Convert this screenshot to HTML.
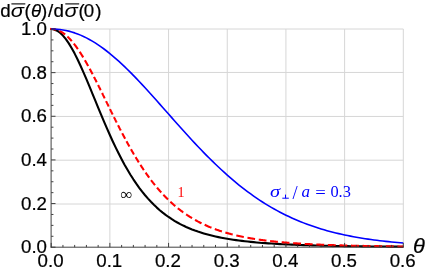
<!DOCTYPE html>
<html><head><meta charset="utf-8"><style>
html,body{margin:0;padding:0;background:#fff;overflow:hidden;}
svg{display:block;will-change:transform;font-family:"Liberation Sans",sans-serif;}
</style></head><body>
<svg width="427" height="273" viewBox="0 0 427 273">
<rect width="427" height="273" fill="#fff"/>
<g stroke="#d6d6d6" stroke-width="1" fill="none"><line x1="109.88" y1="29.0" x2="109.88" y2="247.2"/><line x1="168.57" y1="29.0" x2="168.57" y2="247.2"/><line x1="227.25" y1="29.0" x2="227.25" y2="247.2"/><line x1="285.93" y1="29.0" x2="285.93" y2="247.2"/><line x1="344.62" y1="29.0" x2="344.62" y2="247.2"/><line x1="403.30" y1="29.0" x2="403.30" y2="247.2"/><line x1="51.2" y1="204.00" x2="403.3" y2="204.00"/><line x1="51.2" y1="160.20" x2="403.3" y2="160.20"/><line x1="51.2" y1="116.45" x2="403.3" y2="116.45"/><line x1="51.2" y1="72.45" x2="403.3" y2="72.45"/><line x1="51.2" y1="29.00" x2="403.3" y2="29.00"/></g>
<g fill="none" stroke-linejoin="round">
<path d="M51.20,29.00 L54.13,29.42 L57.07,30.66 L60.00,32.72 L62.94,35.55 L65.87,39.11 L68.81,43.35 L71.74,48.20 L74.67,53.60 L77.61,59.48 L80.54,65.75 L83.48,72.33 L86.41,79.17 L89.34,86.18 L92.28,93.29 L95.21,100.45 L98.15,107.59 L101.08,114.66 L104.02,121.61 L106.95,128.42 L109.88,135.04 L112.82,141.45 L115.75,147.63 L118.69,153.57 L121.62,159.25 L124.55,164.66 L127.49,169.81 L130.42,174.69 L133.36,179.31 L136.29,183.66 L139.23,187.77 L142.16,191.63 L145.09,195.25 L148.03,198.65 L150.96,201.83 L153.90,204.81 L156.83,207.59 L159.76,210.19 L162.70,212.62 L165.63,214.88 L168.57,216.99 L171.50,218.96 L174.44,220.79 L177.37,222.50 L180.30,224.09 L183.24,225.57 L186.17,226.95 L189.11,228.23 L192.04,229.43 L194.97,230.54 L197.91,231.58 L200.84,232.54 L203.78,233.44 L206.71,234.28 L209.65,235.07 L212.58,235.80 L215.51,236.48 L218.45,237.11 L221.38,237.71 L224.32,238.26 L227.25,238.78 L230.18,239.26 L233.12,239.72 L236.05,240.14 L238.99,240.54 L241.92,240.91 L244.86,241.26 L247.79,241.58 L250.72,241.89 L253.66,242.17 L256.59,242.44 L259.53,242.70 L262.46,242.93 L265.39,243.15 L268.33,243.36 L271.26,243.56 L274.20,243.75 L277.13,243.92 L280.07,244.08 L283.00,244.24 L285.93,244.39 L288.87,244.52 L291.80,244.65 L294.74,244.78 L297.67,244.89 L300.60,245.00 L303.54,245.10 L306.47,245.20 L309.41,245.29 L312.34,245.38 L315.28,245.46 L318.21,245.54 L321.14,245.62 L324.08,245.69 L327.01,245.75 L329.95,245.82 L332.88,245.88 L335.81,245.93 L338.75,245.99 L341.68,246.04 L344.62,246.09 L347.55,246.13 L350.49,246.18 L353.42,246.22 L356.35,246.26 L359.29,246.30 L362.22,246.33 L365.16,246.37 L368.09,246.40 L371.02,246.43 L373.96,246.46 L376.89,246.49 L379.83,246.52 L382.76,246.54 L385.70,246.57 L388.63,246.59 L391.56,246.62 L394.50,246.64 L397.43,246.66 L400.37,246.68 L403.30,246.70" stroke="#000" stroke-width="2.1"/>
<path d="M51.20,29.00 L51.61,29.00 L52.02,29.02 L52.43,29.04 L52.84,29.07 L53.25,29.11 L53.66,29.16 L54.08,29.22 L54.49,29.29 L54.90,29.37 L55.31,29.46 L55.72,29.56 L56.07,29.65M59.36,30.87 L59.83,31.10 L60.30,31.34 L60.77,31.59 L61.23,31.86 L61.70,32.14 L62.17,32.43 L62.64,32.73 L63.11,33.05 L63.58,33.38 L64.05,33.72 L64.52,34.08 L64.99,34.44 L65.11,34.54M67.46,36.58 L67.81,36.91 L68.16,37.25 L68.51,37.59 L68.86,37.95 L69.22,38.30 L69.57,38.67 L69.92,39.04 L70.27,39.42 L70.62,39.81 L70.98,40.20 L71.33,40.60 L71.68,41.00 L71.80,41.14M73.79,43.56 L74.09,43.93 L74.38,44.30 L74.67,44.69 L74.97,45.07 L75.26,45.46 L75.55,45.85 L75.85,46.25 L76.14,46.65 L76.43,47.05 L76.73,47.46 L77.02,47.87 L77.31,48.29 L77.61,48.71 L77.84,49.04M79.66,51.74 L79.95,52.19 L80.25,52.64 L80.54,53.10 L80.84,53.56 L81.13,54.02 L81.42,54.48 L81.72,54.95 L82.01,55.42 L82.30,55.89 L82.60,56.37 L82.89,56.85 L83.18,57.34 L83.24,57.43M84.88,60.20 L85.12,60.60 L85.35,61.00 L85.59,61.41 L85.82,61.82 L86.06,62.23 L86.29,62.64 L86.53,63.05 L86.76,63.46 L87.00,63.88 L87.23,64.30 L87.47,64.71 L87.70,65.13 L87.94,65.56 L88.17,65.98 L88.17,65.98M89.70,68.77 L89.93,69.20 L90.17,69.63 L90.40,70.07 L90.64,70.51 L90.87,70.95 L91.10,71.39 L91.34,71.83 L91.57,72.27 L91.81,72.72 L92.04,73.16 L92.28,73.61 L92.51,74.05 L92.57,74.17M93.98,76.87 L94.21,77.33 L94.45,77.78 L94.68,78.24 L94.92,78.70 L95.15,79.16 L95.39,79.61 L95.62,80.07 L95.86,80.54 L96.09,81.00 L96.33,81.46 L96.56,81.92 L96.74,82.27M98.09,84.95 L98.26,85.30 L98.44,85.65 L98.62,86.01 L98.79,86.36 L98.97,86.71 L99.14,87.06 L99.32,87.42 L99.50,87.77 L99.67,88.12 L99.85,88.48 L100.02,88.83 L100.20,89.19 L100.38,89.54 L100.55,89.90 L100.73,90.25 L100.73,90.25M102.08,92.98 L102.25,93.34 L102.43,93.70 L102.61,94.05 L102.78,94.41 L102.96,94.77 L103.13,95.13 L103.31,95.48 L103.49,95.84 L103.66,96.20 L103.84,96.56 L104.02,96.92 L104.19,97.27 L104.37,97.63 L104.54,97.99 L104.72,98.35 L104.72,98.35M106.07,101.10 L106.24,101.46 L106.42,101.82 L106.60,102.18 L106.77,102.54 L106.95,102.89 L107.13,103.25 L107.30,103.61 L107.48,103.97 L107.65,104.33 L107.83,104.69 L108.01,105.05 L108.18,105.40 L108.36,105.76 L108.53,106.12 L108.71,106.48 L108.71,106.48M110.00,109.10 L110.18,109.46 L110.35,109.82 L110.53,110.17 L110.70,110.53 L110.88,110.89 L111.06,111.24 L111.23,111.60 L111.41,111.96 L111.59,112.31 L111.76,112.67 L111.94,113.02 L112.11,113.38 L112.29,113.73 L112.47,114.09 L112.64,114.44 L112.70,114.56M113.99,117.15 L114.17,117.51 L114.34,117.86 L114.52,118.21 L114.70,118.56 L114.87,118.91 L115.05,119.27 L115.22,119.62 L115.40,119.97 L115.58,120.32 L115.75,120.67 L115.93,121.02 L116.10,121.37 L116.28,121.71 L116.46,122.06 L116.63,122.41 L116.69,122.53M118.04,125.18 L118.28,125.64 L118.51,126.10 L118.74,126.56 L118.98,127.02 L119.21,127.48 L119.45,127.93 L119.68,128.39 L119.92,128.84 L120.15,129.30 L120.39,129.75 L120.62,130.20 L120.80,130.54M122.21,133.24 L122.44,133.68 L122.68,134.13 L122.91,134.57 L123.15,135.02 L123.38,135.46 L123.62,135.90 L123.85,136.34 L124.08,136.78 L124.32,137.22 L124.55,137.66 L124.79,138.10 L125.02,138.53 L125.08,138.64M126.49,141.24 L126.73,141.67 L126.96,142.10 L127.19,142.53 L127.43,142.95 L127.66,143.38 L127.90,143.80 L128.13,144.23 L128.37,144.65 L128.60,145.07 L128.84,145.49 L129.07,145.91 L129.31,146.33 L129.42,146.54M130.95,149.23 L131.19,149.64 L131.42,150.05 L131.65,150.45 L131.89,150.86 L132.12,151.27 L132.36,151.67 L132.59,152.07 L132.83,152.48 L133.06,152.88 L133.30,153.28 L133.53,153.68 L133.77,154.07 L134.00,154.47 L134.00,154.47M135.59,157.12 L135.82,157.50 L136.06,157.89 L136.29,158.28 L136.53,158.66 L136.76,159.04 L137.00,159.43 L137.23,159.81 L137.46,160.19 L137.70,160.56 L137.93,160.94 L138.17,161.32 L138.40,161.69 L138.64,162.07 L138.81,162.35M140.40,164.83 L140.69,165.28 L140.99,165.74 L141.28,166.19 L141.57,166.64 L141.87,167.08 L142.16,167.53 L142.45,167.97 L142.75,168.41 L143.04,168.85 L143.33,169.29 L143.63,169.72 L143.86,170.07M145.56,172.55 L145.86,172.97 L146.15,173.39 L146.44,173.81 L146.74,174.22 L147.03,174.64 L147.32,175.05 L147.62,175.46 L147.91,175.87 L148.20,176.27 L148.50,176.68 L148.79,177.08 L149.08,177.48 L149.20,177.64M151.08,180.15 L151.37,180.54 L151.67,180.92 L151.96,181.30 L152.25,181.69 L152.55,182.06 L152.84,182.44 L153.13,182.82 L153.43,183.19 L153.72,183.56 L154.01,183.93 L154.31,184.30 L154.60,184.66 L154.89,185.03 L155.01,185.17M157.01,187.59 L157.36,188.01 L157.71,188.43 L158.06,188.84 L158.41,189.25 L158.77,189.66 L159.12,190.06 L159.47,190.47 L159.82,190.87 L160.17,191.27 L160.53,191.66 L160.88,192.06 L161.23,192.45 L161.23,192.45M163.34,194.74 L163.70,195.11 L164.05,195.48 L164.40,195.85 L164.75,196.22 L165.10,196.58 L165.46,196.94 L165.81,197.30 L166.16,197.66 L166.51,198.01 L166.86,198.37 L167.22,198.72 L167.57,199.06 L167.92,199.41 L167.98,199.47M170.33,201.71 L170.74,202.09 L171.15,202.47 L171.56,202.84 L171.97,203.22 L172.38,203.59 L172.79,203.95 L173.20,204.32 L173.61,204.68 L174.02,205.04 L174.44,205.39 L174.85,205.74 L175.26,206.09 L175.32,206.14M177.84,208.23 L178.25,208.56 L178.66,208.88 L179.07,209.21 L179.48,209.53 L179.89,209.85 L180.30,210.16 L180.71,210.48 L181.12,210.79 L181.54,211.10 L181.95,211.40 L182.36,211.70 L182.77,212.01 L183.18,212.30 L183.35,212.43M186.11,214.36 L186.58,214.68 L187.05,215.00 L187.52,215.31 L187.99,215.62 L188.46,215.92 L188.93,216.23 L189.40,216.53 L189.87,216.82 L190.34,217.12 L190.81,217.41 L191.28,217.70 L191.75,217.98 L192.04,218.16M195.03,219.91 L195.56,220.20 L196.09,220.50 L196.62,220.79 L197.15,221.07 L197.67,221.36 L198.20,221.64 L198.73,221.92 L199.26,222.19 L199.79,222.46 L200.31,222.73 L200.84,223.00 L201.37,223.26 L201.49,223.32M204.66,224.83 L205.19,225.07 L205.71,225.31 L206.24,225.55 L206.77,225.78 L207.30,226.01 L207.83,226.24 L208.35,226.47 L208.88,226.69 L209.41,226.91 L209.94,227.13 L210.47,227.35 L210.99,227.56 L211.46,227.75M214.81,229.03 L215.40,229.25 L215.98,229.46 L216.57,229.67 L217.16,229.88 L217.74,230.09 L218.33,230.29 L218.92,230.49 L219.50,230.69 L220.09,230.89 L220.68,231.08 L221.26,231.27 L221.85,231.46 L221.91,231.48M225.37,232.54 L225.96,232.71 L226.55,232.88 L227.13,233.05 L227.72,233.21 L228.31,233.38 L228.89,233.54 L229.48,233.70 L230.07,233.86 L230.65,234.01 L231.24,234.17 L231.83,234.32 L232.41,234.47 L232.71,234.54M236.29,235.41 L236.87,235.55 L237.46,235.68 L238.05,235.81 L238.63,235.94 L239.22,236.07 L239.81,236.20 L240.40,236.33 L240.98,236.45 L241.57,236.58 L242.16,236.70 L242.74,236.82 L243.33,236.94 L243.80,237.03M247.44,237.73 L248.02,237.83 L248.61,237.94 L249.20,238.05 L249.78,238.15 L250.37,238.25 L250.96,238.35 L251.54,238.45 L252.13,238.55 L252.72,238.65 L253.31,238.74 L253.89,238.84 L254.48,238.93 L255.07,239.02 L255.07,239.02M258.76,239.58 L259.41,239.67 L260.05,239.77 L260.70,239.86 L261.35,239.95 L261.99,240.03 L262.64,240.12 L263.28,240.21 L263.93,240.29 L264.57,240.37 L265.22,240.46 L265.86,240.54 L266.45,240.61M270.15,241.05 L270.79,241.12 L271.44,241.20 L272.08,241.27 L272.73,241.34 L273.38,241.41 L274.02,241.48 L274.67,241.54 L275.31,241.61 L275.96,241.68 L276.60,241.74 L277.25,241.81 L277.89,241.87 L277.89,241.87M281.65,242.22 L282.29,242.28 L282.94,242.34 L283.59,242.39 L284.23,242.45 L284.88,242.50 L285.52,242.56 L286.17,242.61 L286.81,242.66 L287.46,242.72 L288.10,242.77 L288.75,242.82 L289.40,242.87 L289.45,242.87M293.15,243.15 L293.80,243.19 L294.44,243.24 L295.09,243.29 L295.73,243.33 L296.38,243.37 L297.02,243.42 L297.67,243.46 L298.32,243.50 L298.96,243.54 L299.61,243.58 L300.25,243.62 L300.90,243.66 L301.01,243.67M304.71,243.89 L305.36,243.93 L306.00,243.96 L306.65,244.00 L307.29,244.03 L307.94,244.07 L308.59,244.10 L309.23,244.14 L309.88,244.17 L310.52,244.20 L311.17,244.24 L311.81,244.27 L312.46,244.30 L312.58,244.31M316.33,244.48 L316.98,244.51 L317.62,244.54 L318.27,244.57 L318.91,244.60 L319.56,244.63 L320.20,244.65 L320.85,244.68 L321.50,244.71 L322.14,244.74 L322.79,244.76 L323.43,244.79 L324.08,244.81 L324.14,244.82M327.89,244.96 L328.54,244.98 L329.18,245.01 L329.83,245.03 L330.47,245.05 L331.12,245.07 L331.77,245.10 L332.41,245.12 L333.06,245.14 L333.70,245.16 L334.35,245.18 L334.99,245.20 L335.64,245.22 L335.70,245.23M339.45,245.34 L340.10,245.36 L340.74,245.38 L341.39,245.40 L342.03,245.42 L342.68,245.43 L343.33,245.45 L343.97,245.47 L344.62,245.49 L345.26,245.50 L345.91,245.52 L346.55,245.54 L347.20,245.56 L347.32,245.56M351.07,245.65 L351.72,245.67 L352.36,245.68 L353.01,245.70 L353.65,245.71 L354.30,245.73 L354.94,245.74 L355.59,245.76 L356.24,245.77 L356.88,245.78 L357.53,245.80 L358.17,245.81 L358.82,245.83 L358.88,245.83M362.63,245.90 L363.28,245.92 L363.92,245.93 L364.57,245.94 L365.21,245.95 L365.86,245.97 L366.51,245.98 L367.15,245.99 L367.80,246.00 L368.44,246.01 L369.09,246.02 L369.73,246.04 L370.38,246.05 L370.50,246.05M374.25,246.11 L374.90,246.12 L375.54,246.13 L376.19,246.14 L376.83,246.15 L377.48,246.16 L378.12,246.17 L378.77,246.18 L379.42,246.19 L380.06,246.20 L380.71,246.21 L381.35,246.22 L382.00,246.23 L382.12,246.23M385.87,246.28 L386.52,246.29 L387.16,246.30 L387.81,246.31 L388.45,246.31 L389.10,246.32 L389.74,246.33 L390.39,246.34 L391.04,246.35 L391.68,246.35 L392.33,246.36 L392.97,246.37 L393.62,246.38 L393.68,246.38M397.43,246.42 L397.90,246.43 L398.37,246.43 L398.84,246.44 L399.31,246.44 L399.78,246.45 L400.25,246.45 L400.72,246.46 L401.19,246.46 L401.66,246.46 L402.13,246.47 L402.60,246.47 L403.07,246.48 L403.30,246.48" stroke="#ff0000" stroke-width="2.1"/>
<rect x="50.05" y="27.9" width="1.3" height="2.1" fill="#ff0000"/>
<path d="M51.20,29.00 L54.13,29.05 L57.07,29.22 L60.00,29.51 L62.94,29.93 L65.87,30.47 L68.81,31.14 L71.74,31.94 L74.67,32.88 L77.61,33.94 L80.54,35.13 L83.48,36.44 L86.41,37.88 L89.34,39.45 L92.28,41.13 L95.21,42.93 L98.15,44.85 L101.08,46.88 L104.02,49.01 L106.95,51.25 L109.88,53.59 L112.82,56.03 L115.75,58.56 L118.69,61.17 L121.62,63.87 L124.55,66.64 L127.49,69.49 L130.42,72.40 L133.36,75.38 L136.29,78.41 L139.23,81.50 L142.16,84.63 L145.09,87.80 L148.03,91.01 L150.96,94.25 L153.90,97.52 L156.83,100.81 L159.76,104.11 L162.70,107.42 L165.63,110.75 L168.57,114.07 L171.50,117.39 L174.44,120.70 L177.37,124.00 L180.30,127.29 L183.24,130.55 L186.17,133.80 L189.11,137.01 L192.04,140.20 L194.97,143.35 L197.91,146.47 L200.84,149.54 L203.78,152.58 L206.71,155.57 L209.65,158.51 L212.58,161.41 L215.51,164.25 L218.45,167.04 L221.38,169.78 L224.32,172.46 L227.25,175.09 L230.18,177.66 L233.12,180.17 L236.05,182.62 L238.99,185.01 L241.92,187.34 L244.86,189.61 L247.79,191.82 L250.72,193.97 L253.66,196.06 L256.59,198.09 L259.53,200.05 L262.46,201.96 L265.39,203.81 L268.33,205.61 L271.26,207.34 L274.20,209.02 L277.13,210.64 L280.07,212.21 L283.00,213.72 L285.93,215.18 L288.87,216.59 L291.80,217.94 L294.74,219.25 L297.67,220.51 L300.60,221.72 L303.54,222.88 L306.47,224.00 L309.41,225.07 L312.34,226.10 L315.28,227.09 L318.21,228.04 L321.14,228.95 L324.08,229.82 L327.01,230.66 L329.95,231.46 L332.88,232.22 L335.81,232.95 L338.75,233.65 L341.68,234.32 L344.62,234.96 L347.55,235.57 L350.49,236.15 L353.42,236.71 L356.35,237.24 L359.29,237.74 L362.22,238.23 L365.16,238.68 L368.09,239.12 L371.02,239.54 L373.96,239.94 L376.89,240.31 L379.83,240.67 L382.76,241.01 L385.70,241.34 L388.63,241.65 L391.56,241.94 L394.50,242.22 L397.43,242.48 L400.37,242.73 L403.30,242.97" stroke="#0000ff" stroke-width="1.6"/>
</g>
<g stroke="#383838" stroke-width="0.95" fill="none">
<line x1="51.1" y1="29.0" x2="51.1" y2="247.64999999999998"/>
<line x1="50.650000000000006" y1="247.2" x2="403.7" y2="247.2"/>
<line x1="51.20" y1="247.2" x2="51.20" y2="242.89999999999998"/><line x1="62.94" y1="247.2" x2="62.94" y2="244.95"/><line x1="74.67" y1="247.2" x2="74.67" y2="244.95"/><line x1="86.41" y1="247.2" x2="86.41" y2="244.95"/><line x1="98.15" y1="247.2" x2="98.15" y2="244.95"/><line x1="109.88" y1="247.2" x2="109.88" y2="242.89999999999998"/><line x1="121.62" y1="247.2" x2="121.62" y2="244.95"/><line x1="133.36" y1="247.2" x2="133.36" y2="244.95"/><line x1="145.09" y1="247.2" x2="145.09" y2="244.95"/><line x1="156.83" y1="247.2" x2="156.83" y2="244.95"/><line x1="168.57" y1="247.2" x2="168.57" y2="242.89999999999998"/><line x1="180.30" y1="247.2" x2="180.30" y2="244.95"/><line x1="192.04" y1="247.2" x2="192.04" y2="244.95"/><line x1="203.78" y1="247.2" x2="203.78" y2="244.95"/><line x1="215.51" y1="247.2" x2="215.51" y2="244.95"/><line x1="227.25" y1="247.2" x2="227.25" y2="242.89999999999998"/><line x1="238.99" y1="247.2" x2="238.99" y2="244.95"/><line x1="250.72" y1="247.2" x2="250.72" y2="244.95"/><line x1="262.46" y1="247.2" x2="262.46" y2="244.95"/><line x1="274.20" y1="247.2" x2="274.20" y2="244.95"/><line x1="285.93" y1="247.2" x2="285.93" y2="242.89999999999998"/><line x1="297.67" y1="247.2" x2="297.67" y2="244.95"/><line x1="309.41" y1="247.2" x2="309.41" y2="244.95"/><line x1="321.14" y1="247.2" x2="321.14" y2="244.95"/><line x1="332.88" y1="247.2" x2="332.88" y2="244.95"/><line x1="344.62" y1="247.2" x2="344.62" y2="242.89999999999998"/><line x1="356.35" y1="247.2" x2="356.35" y2="244.95"/><line x1="368.09" y1="247.2" x2="368.09" y2="244.95"/><line x1="379.83" y1="247.2" x2="379.83" y2="244.95"/><line x1="391.56" y1="247.2" x2="391.56" y2="244.95"/><line x1="403.30" y1="247.2" x2="403.30" y2="242.89999999999998"/><line x1="51.2" y1="247.20" x2="55.5" y2="247.20"/><line x1="51.2" y1="236.29" x2="53.45" y2="236.29"/><line x1="51.2" y1="225.38" x2="53.45" y2="225.38"/><line x1="51.2" y1="214.47" x2="53.45" y2="214.47"/><line x1="51.2" y1="203.56" x2="55.5" y2="203.56"/><line x1="51.2" y1="192.65" x2="53.45" y2="192.65"/><line x1="51.2" y1="181.74" x2="53.45" y2="181.74"/><line x1="51.2" y1="170.83" x2="53.45" y2="170.83"/><line x1="51.2" y1="159.92" x2="55.5" y2="159.92"/><line x1="51.2" y1="149.01" x2="53.45" y2="149.01"/><line x1="51.2" y1="138.10" x2="53.45" y2="138.10"/><line x1="51.2" y1="127.19" x2="53.45" y2="127.19"/><line x1="51.2" y1="116.28" x2="55.5" y2="116.28"/><line x1="51.2" y1="105.37" x2="53.45" y2="105.37"/><line x1="51.2" y1="94.46" x2="53.45" y2="94.46"/><line x1="51.2" y1="83.55" x2="53.45" y2="83.55"/><line x1="51.2" y1="72.64" x2="55.5" y2="72.64"/><line x1="51.2" y1="61.73" x2="53.45" y2="61.73"/><line x1="51.2" y1="50.82" x2="53.45" y2="50.82"/><line x1="51.2" y1="39.91" x2="53.45" y2="39.91"/><line x1="51.2" y1="29.00" x2="55.5" y2="29.00"/></g>
<g font-size="18.7" fill="#000" stroke="#000" stroke-width="0.22"><text x="50.60" y="266.7" text-anchor="middle">0.0</text><text x="109.28" y="266.7" text-anchor="middle">0.1</text><text x="167.97" y="266.7" text-anchor="middle">0.2</text><text x="226.65" y="266.7" text-anchor="middle">0.3</text><text x="285.33" y="266.7" text-anchor="middle">0.4</text><text x="344.02" y="266.7" text-anchor="middle">0.5</text><text x="402.70" y="266.7" text-anchor="middle">0.6</text><text x="47.0" y="253.30" text-anchor="end">0.0</text><text x="47.0" y="209.66" text-anchor="end">0.2</text><text x="47.0" y="166.02" text-anchor="end">0.4</text><text x="47.0" y="122.38" text-anchor="end">0.6</text><text x="47.0" y="78.74" text-anchor="end">0.8</text><text x="47.0" y="35.10" text-anchor="end">1.0</text>
<text x="0.3" y="17.2">d</text><text transform="translate(10.7,17.2) scale(1.17,1)" font-style="italic" stroke="none">σ</text><line x1="11.399999999999999" y1="3.9" x2="25.299999999999997" y2="3.9" stroke="#000" stroke-width="1.1"/><text x="24.4" y="17.2">(</text><text x="30.9" y="17.2" font-style="italic">θ</text><text x="41.1" y="17.2">)</text><text x="48" y="17.2">/</text><text x="53.6" y="17.2">d</text><text transform="translate(64.6,17.2) scale(1.17,1)" font-style="italic" stroke="none">σ</text><line x1="65.3" y1="3.9" x2="79.19999999999999" y2="3.9" stroke="#000" stroke-width="1.1"/><text x="78.6" y="17.2">(</text><text x="83.8" y="17.2">0</text><text x="95.3" y="17.2">)</text>
<text transform="translate(412.9,252.7) scale(1.13,1)" font-size="19.3" font-style="italic">θ</text>
</g>
<g font-family="Liberation Serif, serif" font-size="17">
<text x="120.4" y="200.0" fill="#000" font-size="17">∞</text>
<text x="177.6" y="197.3" fill="#ff0000" font-size="14">1</text>
<g fill="#0000ff">
<text transform="translate(269.9,196.7) scale(1.2,1)" font-style="italic">σ</text>
<path d="M282.3,198.2 H288.8 M285.5,194.6 V198.2" stroke="#0000ff" stroke-width="1" fill="none"/>
<text x="292.6" y="198.6" font-size="18.5">/</text>
<text x="301.6" y="196.7" font-style="italic">a</text>
<text transform="translate(315.2,198.2) scale(1.1,1)">=</text>
<text transform="translate(330.4,197.2) scale(0.965,1.04)">0.3</text>
</g>
</g>
</svg>
</body></html>
